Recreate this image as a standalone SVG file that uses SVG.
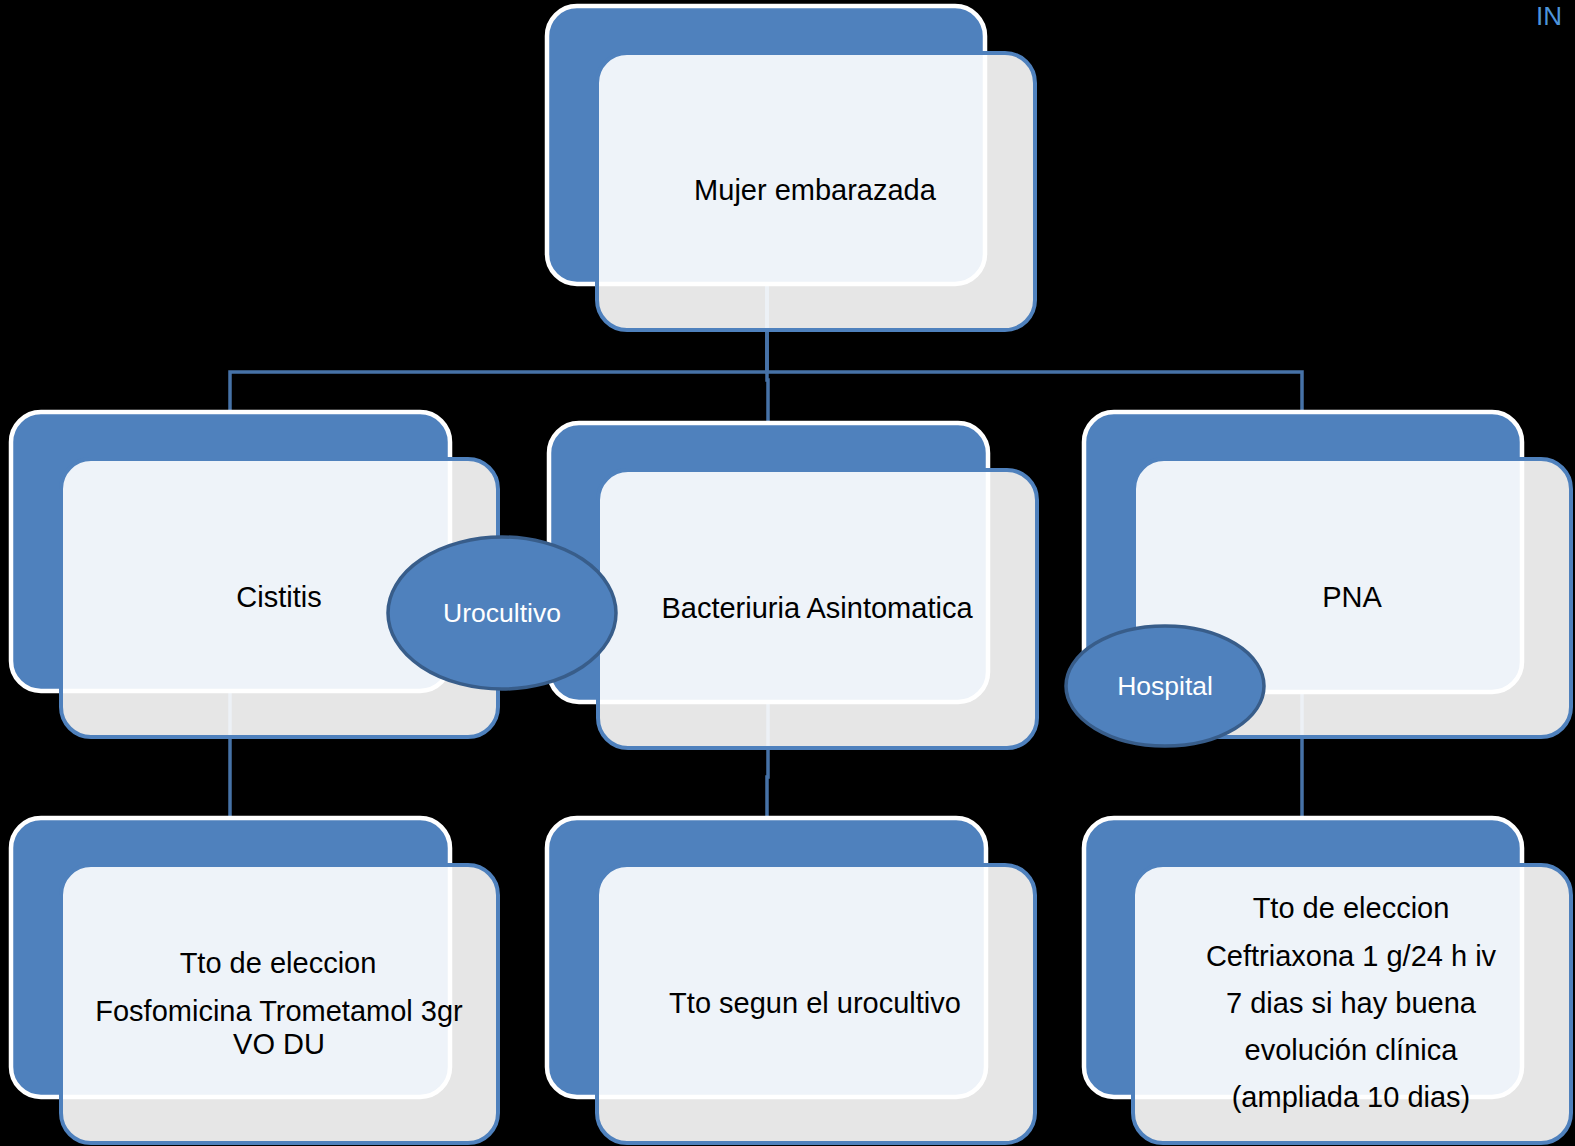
<svg xmlns="http://www.w3.org/2000/svg" width="1575" height="1146" viewBox="0 0 1575 1146">
  <style>
    .back { fill: #4f81bd; stroke: #ffffff; stroke-width: 4.5; }
    .front { fill: #ffffff; fill-opacity: 0.9; stroke: #4f81bd; stroke-width: 4; }
    .label { font-family: "Liberation Sans", Arial, sans-serif; font-size: 29px; fill: #000000; text-anchor: middle; }
    .link { fill: none; stroke: #4672a7; stroke-width: 3.5; }
    .badge { fill: #4f81bd; stroke: #385d8a; stroke-width: 3.5; }
    .badge-text { font-family: "Liberation Sans", Arial, sans-serif; font-size: 26.5px; fill: #ffffff; text-anchor: middle; }
  </style>

  <rect x="0" y="0" width="1575" height="1146" fill="#000000"/>

  <!-- connectors (drawn first so they show faintly through the translucent front cards) -->
  <g id="connectors">
    <path class="link" d="M767 284 V372 H230 V412"/>
    <path class="link" d="M767 284 V380 H768 V423"/>
    <path class="link" d="M767 284 V372 H1302 V412"/>
    <path class="link" d="M230 691 V818"/>
    <path class="link" d="M768 702 V777 H767 V818"/>
    <path class="link" d="M1302 692 V818"/>
  </g>

  <g id="node-mujer">
    <rect class="back" x="547" y="6" width="438" height="278" rx="30"/>
    <rect class="front" x="597" y="53" width="438" height="277" rx="30"/>
    <text class="label" x="815" y="200">Mujer embarazada</text>
  </g>

  <g id="node-cistitis">
    <rect class="back" x="11" y="412" width="439" height="279" rx="30"/>
    <rect class="front" x="61" y="459" width="437" height="278" rx="30"/>
    <text class="label" x="279" y="607">Cistitis</text>
  </g>

  <g id="node-bacteriuria">
    <rect class="back" x="549" y="423" width="439" height="279" rx="30"/>
    <rect class="front" x="598" y="470" width="439" height="278" rx="30"/>
    <text class="label" x="817" y="618">Bacteriuria Asintomatica</text>
  </g>

  <g id="node-pna">
    <rect class="back" x="1084" y="412" width="438" height="280" rx="30"/>
    <rect class="front" x="1134" y="459" width="437" height="278" rx="30"/>
    <text class="label" x="1352" y="607">PNA</text>
  </g>

  <g id="node-tto-cistitis">
    <rect class="back" x="11" y="818" width="439" height="279" rx="30"/>
    <rect class="front" x="61" y="865" width="437" height="278" rx="30"/>
    <text class="label" x="278" y="973">Tto de eleccion</text>
    <text class="label" x="279" y="1021">Fosfomicina Trometamol 3gr</text>
    <text class="label" x="279" y="1054">VO DU</text>
  </g>

  <g id="node-tto-bacteriuria">
    <rect class="back" x="547" y="818" width="439" height="279" rx="30"/>
    <rect class="front" x="597" y="865" width="438" height="278" rx="30"/>
    <text class="label" x="815" y="1013">Tto segun el urocultivo</text>
  </g>

  <g id="node-tto-pna">
    <rect class="back" x="1084" y="818" width="438" height="279" rx="30"/>
    <rect class="front" x="1133" y="865" width="438" height="278" rx="30"/>
    <text class="label" x="1351" y="918">Tto de eleccion</text>
    <text class="label" x="1351" y="966">Ceftriaxona 1 g/24 h iv</text>
    <text class="label" x="1351" y="1013">7 dias si hay buena</text>
    <text class="label" x="1351" y="1060">evolución clínica</text>
    <text class="label" x="1351" y="1107">(ampliada 10 dias)</text>
  </g>

  <g id="badge-urocultivo">
    <ellipse class="badge" cx="502" cy="613" rx="114" ry="76"/>
    <text class="badge-text" x="502" y="622">Urocultivo</text>
  </g>

  <g id="badge-hospital">
    <ellipse class="badge" cx="1165" cy="686" rx="99" ry="60"/>
    <text class="badge-text" x="1165" y="695">Hospital</text>
  </g>

  <!-- heading fragment at the top-right edge -->
  <text x="1536" y="25" font-family="Liberation Sans, Arial, sans-serif" font-size="26" fill="#4d94db">IN</text>
</svg>
